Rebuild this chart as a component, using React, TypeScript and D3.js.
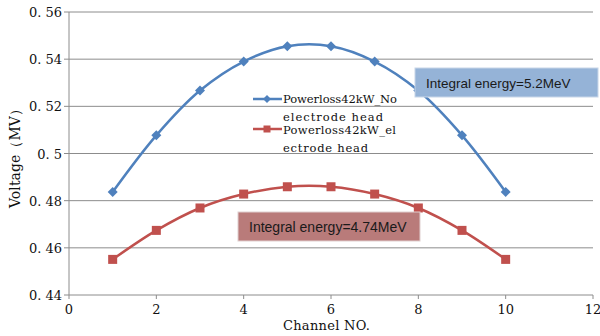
import React from 'react';
import * as d3 from 'd3';

const channels = [1, 2, 3, 4, 5, 6, 7, 8, 9, 10];
const noElectrode = [0.4837, 0.5077, 0.5267, 0.539, 0.5455, 0.5455, 0.539, 0.5267, 0.5077, 0.4837];
const withElectrode = [0.4551, 0.4674, 0.4769, 0.4828, 0.4859, 0.4859, 0.4828, 0.4769, 0.4674, 0.4551];
const xTicks = [0, 2, 4, 6, 8, 10, 12];
const yTicks = [0.44, 0.46, 0.48, 0.5, 0.52, 0.54, 0.56];
const seriesNames = ['Powerloss42kW_No', 'electrode head', 'Powerloss42kW_el', 'ectrode head'];
const notes = ['Integral energy=5.2MeV', 'Integral energy=4.74MeV'];

const BLUE = '#4F81BD';
const RED = '#C0504D';
const GRID = '#8c8c8c';
const serif = '"DejaVu Serif", serif';
const sans = '"Liberation Sans", Arial, sans-serif';

const fmtY = (v: number) => {
  const s = v === 0.5 ? '0.5' : v.toFixed(2);
  return s.replace('.', '. ');
};

export default function App() {
  const W = 600;
  const H = 336;
  const x = d3.scaleLinear().domain([0, 12]).range([69, 593]);
  const y = d3.scaleLinear().domain([0.44, 0.56]).range([295, 12]);

  const line = d3
    .line<number>()
    .x((_, i) => x(channels[i]))
    .y((d) => y(d))
    .curve(d3.curveCatmullRom.alpha(0.5));

  const diamond = (cx: number, cy: number, r = 5) =>
    `M${cx},${cy - r}L${cx + r},${cy}L${cx},${cy + r}L${cx - r},${cy}Z`;

  // legend rows: text, baseline, width in px
  const legendRows: [string, number, number][] = [
    [seriesNames[0], 103, 114],
    [seriesNames[1], 121, 100],
    [seriesNames[2], 134, 113],
    [seriesNames[3], 152, 85],
  ];

  return (
    <svg width={W} height={H} style={{ position: 'absolute', left: 0, top: 0, background: '#fff' }}>
      {/* grid */}
      {yTicks.map((t) => (
        <line key={'g' + t} x1={x(0) - 5} x2={x(12)} y1={y(t)} y2={y(t)} stroke={GRID} strokeWidth={1} />
      ))}
      {/* y axis */}
      <line x1={x(0)} x2={x(0)} y1={y(0.56)} y2={y(0.44)} stroke={GRID} strokeWidth={1} />
      {/* x ticks */}
      {xTicks.map((t) => (
        <line key={'xt' + t} x1={x(t)} x2={x(t)} y1={y(0.44)} y2={y(0.44) + 4} stroke={GRID} strokeWidth={1} />
      ))}
      {yTicks.map((t) => (
        <text key={'yl' + t} x={62} y={y(t) + 5} textAnchor="end" fontFamily={serif} fontSize={13} fill="#111">
          {fmtY(t)}
        </text>
      ))}
      {xTicks.map((t) => (
        <text key={'xl' + t} x={x(t)} y={314} textAnchor="middle" fontFamily={serif} fontSize={13} fill="#111">
          {t}
        </text>
      ))}
      <text
        x={283}
        y={330}
        textLength={87}
        lengthAdjust="spacing"
        fontFamily={serif}
        fontSize={13}
        fill="#111"
      >
        Channel NO.
      </text>
      <text
        transform="translate(20,208) rotate(-90)"
        textLength={106}
        lengthAdjust="spacing"
        fontFamily={serif}
        fontSize={14}
        fill="#111"
      >
        Voltage（MV）
      </text>

      {/* series */}
      <path d={line(noElectrode) || ''} fill="none" stroke={BLUE} strokeWidth={2.5} />
      <path d={line(withElectrode) || ''} fill="none" stroke={RED} strokeWidth={2.5} />
      {noElectrode.map((v, i) => (
        <path key={'b' + i} d={diamond(x(channels[i]), y(v))} fill={BLUE} />
      ))}
      {withElectrode.map((v, i) => (
        <rect key={'r' + i} x={x(channels[i]) - 4.5} y={y(v) - 4.5} width={9} height={9} fill={RED} />
      ))}

      {/* legend */}
      <line x1={253} x2={282} y1={99} y2={99} stroke={BLUE} strokeWidth={2.5} />
      <path d={diamond(267, 99, 4)} fill={BLUE} />
      <line x1={253} x2={282} y1={129} y2={129} stroke={RED} strokeWidth={2.5} />
      <rect x={263.5} y={125.5} width={7} height={7} fill={RED} />
      {legendRows.map(([s, by, w]) => (
        <text
          key={s}
          x={283}
          y={by}
          textLength={w}
          lengthAdjust="spacing"
          fontFamily={serif}
          fontSize={11.5}
          fill="#111"
        >
          {s}
        </text>
      ))}

      {/* annotations */}
      <rect x={415} y={68} width={183} height={29} fill="#95B3D7" stroke="#c8d6e8" strokeWidth={1} />
      <text x={426} y={88} fontFamily={sans} fontSize={13.5} fill="#1a1a1a">{notes[0]}</text>
      <rect x={238} y={212} width={182} height={29} fill="#B97B7A" stroke="#e0d0d0" strokeWidth={1} />
      <text x={249} y={232} fontFamily={sans} fontSize={14} fill="#1a1a1a">{notes[1]}</text>
    </svg>
  );
}
